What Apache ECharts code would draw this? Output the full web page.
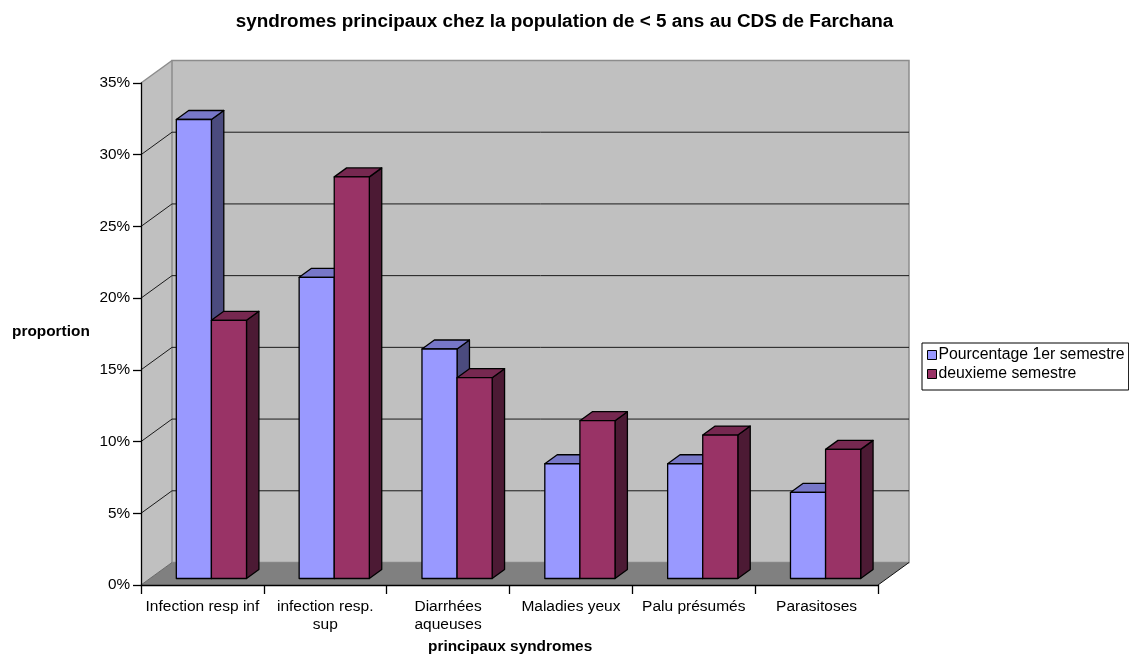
<!DOCTYPE html>
<html>
<head>
<meta charset="utf-8">
<script src="https://cdn.jsdelivr.net/npm/echarts@6/dist/echarts.min.js"></script>
<style>
  html, body { margin: 0; padding: 0; background: #fff; }
  #chart { width: 1129px; height: 659px; }
</style>
</head>
<body>
<div id="chart"></div>
<script>
// Categories and percentages per semester
const categories = ['Infection resp inf', 'infection resp.\nsup', 'Diarrhées\naqueuses', 'Maladies yeux', 'Palu présumés', 'Parasitoses'];
const semestre1 = [32, 21, 16, 8, 8, 6];
const semestre2 = [18, 28, 14, 11, 10, 9];
const seriesNames = ['Pourcentage 1er semestre', 'deuxieme semestre'];
const yTicks = [0, 5, 10, 15, 20, 25, 30, 35];

const FONT = 'Liberation Sans, Arial, sans-serif';

// oblique projection: full wall depth, and bar front/back depth fractions
const DEPTH = [31, -22.5];
const BAR_FRONT = 0.29;
const BAR_BACK = 0.69;

const barPalette = [
  { front: '#9999FF', top: '#7777C8', side: '#4B4B7E' },
  { front: '#993366', top: '#762850', side: '#4C1A34' }
];

const chart = echarts.init(document.getElementById('chart'), null, { renderer: 'canvas' });

function bandInfo(api) {
  const bw = api.size([1, 0])[0];
  const left = api.coord([0, 0])[0] - bw / 2;
  const right = api.coord([categories.length - 1, 0])[0] + bw / 2;
  return { bw, left, right };
}

// back wall, side wall, floor and gridlines
function renderWalls(params, api) {
  const { left, right } = bandInfo(api);
  const dx = DEPTH[0], dy = DEPTH[1];
  const yMin = api.coord([0, yTicks[0]])[1];
  const yMax = api.coord([0, yTicks[yTicks.length - 1]])[1];
  const children = [];
  // side wall
  children.push({
    type: 'polygon',
    shape: { points: [[left, yMax], [left + dx, yMax + dy], [left + dx, yMin + dy], [left, yMin]] },
    style: { fill: '#C0C0C0', stroke: null }
  });
  // back wall
  children.push({
    type: 'rect',
    shape: { x: left + dx, y: yMax + dy, width: right - left, height: yMin - yMax },
    style: { fill: '#C0C0C0', stroke: '#8C8C8C', lineWidth: 1.5 }
  });
  // side wall top edge
  children.push({
    type: 'line',
    shape: { x1: left, y1: yMax, x2: left + dx, y2: yMax + dy },
    style: { stroke: '#8C8C8C', lineWidth: 1.5 }
  });
  // gridlines across side wall and back wall
  for (let i = 1; i < yTicks.length - 1; i++) {
    const y = api.coord([0, yTicks[i]])[1];
    children.push({
      type: 'polyline',
      shape: { points: [[left, y], [left + dx, y + dy], [right + dx, y + dy]] },
      style: { stroke: '#1a1a1a', lineWidth: 1, fill: null }
    });
  }
  // floor
  children.push({
    type: 'polygon',
    shape: { points: [[left, yMin], [right, yMin], [right + dx, yMin + dy], [left + dx, yMin + dy]] },
    style: { fill: '#808080', stroke: null }
  });
  children.push({
    type: 'line',
    shape: { x1: left, y1: yMin, x2: left + dx, y2: yMin + dy },
    style: { stroke: '#6a6a6a', lineWidth: 1 }
  });
  children.push({
    type: 'line',
    shape: { x1: right, y1: yMin, x2: right + dx, y2: yMin + dy },
    style: { stroke: '#111', lineWidth: 1 }
  });
  return { type: 'group', children };
}

// 3D column: side, top, then front face
function makeBarRenderer(seriesIndex) {
  const pal = barPalette[seriesIndex];
  return function (params, api) {
    const idx = api.value(0);
    const val = api.value(1);
    const { bw } = bandInfo(api);
    const barW = bw / 3.5;
    const top = api.coord([idx, val]);
    const base = api.coord([idx, 0]);
    const fx = DEPTH[0] * BAR_FRONT, fy = DEPTH[1] * BAR_FRONT;
    const dx = DEPTH[0] * (BAR_BACK - BAR_FRONT), dy = DEPTH[1] * (BAR_BACK - BAR_FRONT);
    const x0 = top[0] - barW + seriesIndex * barW + fx;
    const x1 = x0 + barW;
    const yT = top[1] + fy;
    const yB = base[1] + fy;
    const stroke = { stroke: '#000', lineWidth: 1.3, lineJoin: 'round' };
    return {
      type: 'group',
      children: [
        {
          type: 'polygon',
          shape: { points: [[x1, yT], [x1 + dx, yT + dy], [x1 + dx, yB + dy], [x1, yB]] },
          style: Object.assign({ fill: pal.side }, stroke)
        },
        {
          type: 'polygon',
          shape: { points: [[x0, yT], [x0 + dx, yT + dy], [x1 + dx, yT + dy], [x1, yT]] },
          style: Object.assign({ fill: pal.top }, stroke)
        },
        {
          type: 'rect',
          shape: { x: x0, y: yT, width: barW, height: yB - yT },
          style: Object.assign({ fill: pal.front }, stroke)
        }
      ]
    };
  };
}

const option = {
  animation: false,
  backgroundColor: '#fff',
  textStyle: { fontFamily: FONT },
  title: {
    text: 'syndromes principaux chez la population de < 5 ans au CDS de Farchana',
    left: 'center',
    top: 7,
    textStyle: { fontFamily: FONT, fontSize: 18.9, fontWeight: 'bold', color: '#000' }
  },
  legend: {
    orient: 'vertical',
    left: 922,
    top: 343,
    padding: [3, 4, 7, 5],
    itemGap: 1,
    itemWidth: 9,
    itemHeight: 9,
    borderColor: '#000',
    borderWidth: 1,
    backgroundColor: '#fff',
    data: seriesNames.map(n => ({ name: n, icon: 'rect' })),
    itemStyle: { borderColor: '#000', borderWidth: 1 },
    textStyle: { fontFamily: FONT, fontSize: 15.8, color: '#000', lineHeight: 18, padding: [0, 0, 0, -3] }
  },
  grid: { left: 141, right: 251, top: 83, bottom: 74 },
  xAxis: {
    type: 'category',
    data: categories,
    boundaryGap: true,
    axisLine: { show: true, lineStyle: { color: '#000', width: 1.3 } },
    axisTick: { show: true, length: 9, lineStyle: { color: '#000', width: 1.3 } },
    axisLabel: { fontFamily: FONT, fontSize: 15.5, color: '#000', margin: 13, lineHeight: 18, interval: 0 },
    splitLine: { show: false }
  },
  yAxis: {
    type: 'value',
    min: yTicks[0],
    max: yTicks[yTicks.length - 1],
    interval: 5,
    axisLine: { show: true, lineStyle: { color: '#000', width: 1.3 } },
    axisTick: { show: true, length: 8, lineStyle: { color: '#000', width: 1.3 } },
    axisLabel: { fontFamily: FONT, fontSize: 15.3, color: '#000', margin: 11, formatter: '{value}%' },
    splitLine: { show: false }
  },
  graphic: [
    {
      type: 'text',
      left: 12,
      top: 324,
      style: { text: 'proportion', font: 'bold 15.4px ' + FONT, fill: '#000' }
    },
    {
      type: 'text',
      left: 428,
      top: 639,
      style: { text: 'principaux syndromes', font: 'bold 15.4px ' + FONT, fill: '#000' }
    }
  ],
  series: [
    {
      type: 'custom',
      name: 'walls',
      z: -1,
      silent: true,
      renderItem: renderWalls,
      data: [[0, 0]],
      encode: { x: 0, y: 1 }
    },
    {
      type: 'custom',
      name: seriesNames[0],
      itemStyle: { color: barPalette[0].front },
      renderItem: makeBarRenderer(0),
      data: semestre1.map((v, i) => [i, v]),
      encode: { x: 0, y: 1 }
    },
    {
      type: 'custom',
      name: seriesNames[1],
      itemStyle: { color: barPalette[1].front },
      renderItem: makeBarRenderer(1),
      data: semestre2.map((v, i) => [i, v]),
      encode: { x: 0, y: 1 }
    }
  ]
};

chart.setOption(option);
</script>
</body>
</html>
